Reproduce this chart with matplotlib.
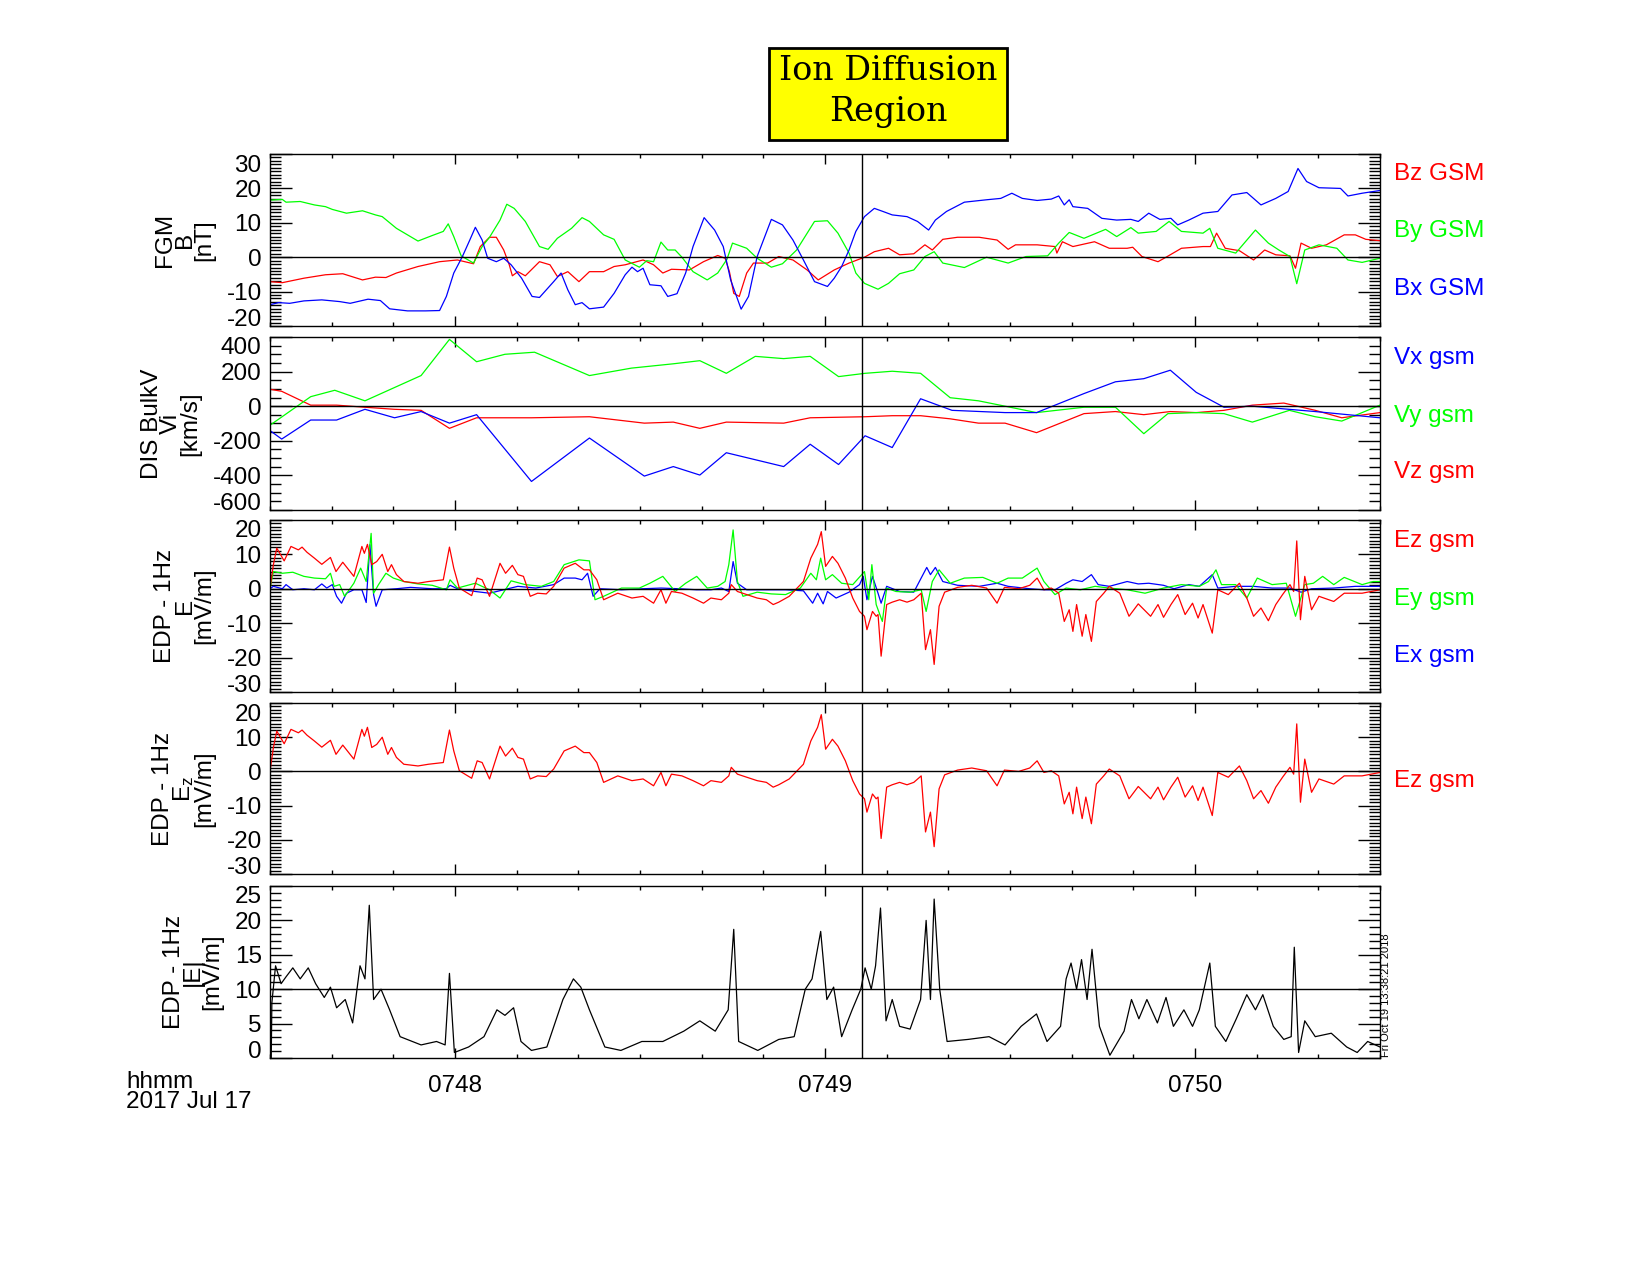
import numpy as np
import matplotlib
matplotlib.use("Agg")
import matplotlib.pyplot as plt
from matplotlib.ticker import MultipleLocator, FixedLocator
from matplotlib.patches import Rectangle
from matplotlib.transforms import ScaledTranslation

plt.rcParams['font.family'] = ['Liberation Sans', 'DejaVu Sans']
plt.rcParams['mathtext.fontset'] = 'custom'
plt.rcParams['mathtext.rm'] = 'Liberation Sans'
plt.rcParams['mathtext.it'] = 'Liberation Sans:italic'
plt.rcParams['axes.unicode_minus'] = False

# time is seconds after 07:47:30 UT, 2017 Jul 17
t_span = (0, 180)
idr_time = 96.0
tick_times = [30, 90, 150]
tick_names = ['0748', '0749', '0750']

# FGM B (nT), GSM
bx_gsm = [(0, -13.8), (1.4, -13.2), (3.2, -13.4), (5.5, -12.7), (8.4, -12.4), (11.3, -12.9), (13.0, -13.4),
          (15.9, -12.2), (17.9, -12.6), (19.4, -15.0), (22.3, -15.6), (25.2, -15.6), (27.5, -15.5), (28.6, -11.4),
          (29.8, -4.6), (31.2, 0.2), (32.4, 5.0), (33.3, 8.7), (34.4, 5.0), (35.3, -0.3), (36.7, -1.3), (37.9, -0.3),
          (39.1, -2.2), (40.8, -6.1), (42.5, -11.4), (43.7, -11.7), (46.0, -7.1), (47.2, -4.6), (48.3, -9.5),
          (49.5, -13.8), (50.6, -13.2), (51.8, -15.0), (54.1, -14.5), (55.8, -10.5), (57.6, -5.1), (58.7, -2.9),
          (59.6, -4.2), (60.5, -3.2), (61.6, -8.0), (63.4, -8.3), (64.5, -11.4), (66.0, -10.6), (67.4, -4.6),
          (68.6, 3.1), (70.4, 11.5), (72.1, 7.9), (73.5, 3.1), (74.7, -6.6), (76.4, -15.1), (77.6, -11.4),
          (79.0, 0.2), (81.3, 11.0), (83.1, 9.4), (84.8, 5.0), (86.5, -0.8), (88.3, -7.1), (90.4, -8.5),
          (91.5, -6.1), (92.7, -2.7), (93.9, 2.1), (95.0, 7.5), (96.4, 11.8), (98.0, 14.2), (99.4, 13.3),
          (100.9, 12.3), (103.3, 11.8), (105.0, 10.4), (106.8, 7.9), (107.9, 10.8), (109.7, 13.3), (112.6, 16.0),
          (116.2, 16.7), (118.5, 17.1), (120.3, 18.6), (122.0, 17.1), (124.4, 16.5), (126.7, 16.9), (127.9, 17.8),
          (128.8, 15.2), (129.6, 16.7), (130.2, 14.7), (132.6, 14.2), (134.9, 11.3), (137.3, 10.8), (139.6, 11.0),
          (140.8, 10.4), (142.5, 12.8), (144.3, 11.0), (146.1, 11.3), (147.2, 9.4), (149.0, 10.8), (151.3, 12.8),
          (153.7, 13.3), (156.0, 18.1), (158.4, 18.8), (160.7, 15.2), (163.1, 17.1), (165.1, 19.1), (166.7, 25.8),
          (168.1, 22.0), (170.1, 20.2), (173.6, 20.0), (174.8, 17.8), (177.1, 18.6), (180.0, 19.4)]
by_gsm = [(0, 16.6), (2.0, 16.8), (2.6, 16.0), (4.9, 16.2), (7.2, 15.2), (9.0, 14.7), (10.1, 13.9), (12.4, 12.8),
          (15.0, 13.5), (17.1, 12.3), (18.2, 11.8), (20.5, 8.4), (24.0, 4.7), (26.3, 6.3), (28.1, 7.5), (28.9, 9.7),
          (29.8, 6.0), (31.0, 0.4), (33.0, -1.7), (34.4, 3.1), (35.6, 5.8), (37.3, 10.8), (38.4, 15.4), (39.6, 14.2),
          (41.4, 10.4), (43.7, 3.1), (45.1, 2.3), (46.6, 5.5), (48.9, 8.4), (50.6, 11.5), (51.8, 10.4), (54.1, 6.5),
          (55.8, 5.2), (57.6, -0.8), (59.9, -2.9), (61.1, -1.0), (62.2, -1.3), (63.4, 4.4), (64.5, 2.1), (65.7, 2.1),
          (66.8, 0), (68.6, -4.2), (70.9, -6.6), (72.6, -4.6), (74.1, -0.6), (75.0, 4.1), (77.3, 2.6), (79.0, -0.3),
          (81.3, -2.9), (83.1, -1.9), (85.4, 2.1), (88.3, 10.4), (90.4, 10.6), (92.1, 7.0), (93.9, 1.2), (95.0, -4.6),
          (96.4, -7.6), (98.6, -9.3), (100.3, -7.6), (102.1, -4.8), (104.4, -3.7), (106.2, 0.2), (107.7, 1.6),
          (109.1, -1.7), (112.6, -3.0), (116.2, 0), (119.7, -1.7), (122.6, 0.2), (126.1, 0.4), (127.9, 4.1),
          (129.6, 7.2), (132.0, 5.5), (135.5, 8.1), (137.3, 6.0), (139.6, 8.6), (140.8, 7.0), (143.7, 7.5),
          (145.8, 10.4), (147.8, 7.5), (151.3, 7.0), (152.4, 8.4), (153.7, 2.6), (156.6, 1.2), (159.8, 7.9),
          (161.9, 4.1), (163.6, 2.1), (165.4, 0.2), (166.5, -7.7), (167.8, 2.1), (170.1, 3.6), (173.0, 2.6),
          (174.8, -0.8), (177.1, -1.5), (180.0, -0.3)]
bz_gsm = [(0, -7.1), (2.0, -7.4), (5.5, -6.1), (9.0, -5.1), (11.8, -4.8), (15.0, -6.6), (17.1, -5.8), (18.8, -5.9),
          (20.5, -4.6), (24.0, -2.7), (27.5, -1.3), (30.4, -0.8), (33.0, -1.9), (34.1, 3.1), (35.6, 5.8), (36.7, 5.8),
          (37.9, 2.1), (38.8, -2.2), (39.3, -5.4), (40.2, -4.2), (41.4, -5.4), (43.7, -1.3), (45.4, -2.2),
          (46.6, -5.6), (48.3, -4.2), (50.1, -7.1), (51.8, -4.2), (54.1, -4.2), (55.8, -2.7), (57.6, -2.2),
          (60.5, -0.8), (62.2, -2.2), (63.7, -4.6), (65.1, -3.5), (68.0, -3.7), (70.3, -1.3), (72.6, 0.5),
          (73.8, -0.3), (74.5, -4.2), (75.2, -10.5), (76.1, -11.4), (77.3, -4.6), (78.4, -1.7), (80.7, -1.7),
          (82.5, 0.2), (84.8, -0.8), (87.1, -3.7), (88.9, -6.6), (91.5, -3.7), (93.9, -1.7), (96.4, 0), (98.0, 1.6),
          (100.3, 2.6), (102.1, 0.7), (104.4, 1.0), (106.2, 3.6), (107.4, 2.1), (109.1, 5.2), (111.5, 5.8),
          (115.0, 5.8), (117.9, 5.0), (119.7, 2.3), (120.9, 3.6), (124.4, 3.6), (127.3, 3.1), (127.6, 1.2),
          (128.5, 4.5), (130.2, 3.1), (133.7, 4.5), (136.1, 2.6), (139.0, 2.6), (139.9, 2.9), (141.4, 0.2),
          (144.0, -1.3), (145.5, 0.2), (147.8, 2.6), (151.3, 3.1), (152.5, 3.1), (153.5, 7.0), (154.9, 2.6),
          (157.2, 1.9), (159.5, -0.8), (161.3, 2.1), (163.1, 0.7), (165.4, 0.4), (166.3, -3.2), (167.2, 4.1),
          (168.9, 2.6), (171.3, 3.6), (174.2, 6.5), (176.0, 6.5), (177.7, 5.2), (180.0, 4.8)]

# DIS bulk velocity (km/s), GSM
vx_gsm = [(0, -141), (1.9, -190), (6.6, -80), (10.8, -80), (15.4, -18), (20.2, -67), (24.5, -31), (29.1, -98),
          (33.5, -49), (42.4, -435), (51.8, -184), (60.7, -404), (65.4, -349), (69.7, -398), (74.0, -269),
          (83.3, -349), (87.6, -220), (92.2, -337), (96.5, -171), (100.9, -239), (105.5, 43), (110.6, -24),
          (119.2, -37), (124.3, -37), (132.0, 73), (137.1, 141), (141.7, 159), (146.0, 208), (150.2, 80),
          (154.7, -6), (159.3, 0), (169.5, -31), (180, -67)]
vy_gsm = [(0, -110), (6.6, 55), (10.5, 92), (15.4, 31), (24.5, 177), (29.1, 386), (33.5, 257), (38.1, 300),
          (42.9, 312), (51.8, 177), (58.6, 220), (65.4, 245), (69.7, 263), (74.0, 190), (78.7, 288), (83.3, 275),
          (87.6, 288), (92.2, 171), (96.5, 190), (100.9, 202), (105.5, 190), (110.3, 49), (114.9, 31), (119.2, 0),
          (124.3, -37), (132.0, -6), (137.1, -6), (141.7, -159), (145.6, -43), (150.2, -37), (154.7, -43),
          (159.3, -92), (165.3, -24), (169.5, -61), (173.8, -86), (180, 6)]
vz_gsm = [(0, 98), (1.9, 86), (6.6, 6), (10.8, 6), (15.4, -6), (20.2, -18), (24.5, -24), (29.1, -128), (33.5, -67),
          (42.4, -67), (51.8, -61), (60.7, -98), (65.4, -92), (69.7, -128), (74.0, -92), (83.3, -98), (87.6, -67),
          (96.5, -61), (100.9, -55), (105.5, -55), (110.3, -73), (114.9, -98), (119.2, -98), (124.3, -153),
          (132.0, -43), (137.1, -31), (141.7, -49), (146.0, -31), (150.2, -37), (154.7, -24), (159.3, 6),
          (164.4, 18), (169.5, -24), (173.8, -67), (180, -37)]

# EDP 1 Hz electric field (mV/m), GSM
ex_gsm = [(0, 0), (0.55, 0.7), (2.0, 0), (2.6, 1.2), (3.7, -0.3), (5.5, 0), (7.2, -0.3), (8.4, 1.4), (9.2, 0.2),
          (10.1, 1.2), (10.8, -2.2), (11.6, -4.2), (12.4, -1.3), (13.6, -0.3), (14.9, -0.3), (15.6, -4.0),
          (16.2, 12.8), (16.8, -1.7), (17.2, -5.1), (18.2, -0.3), (20.5, 0), (22.8, 0.4), (26.3, 0), (28.6, 0),
          (29.2, 1.0), (30.4, 0), (33.3, -0.8), (35.6, -1.3), (37.9, -0.3), (40.2, 0.7), (43.1, 0.2), (46.0, 1.2),
          (47.7, 3.1), (49.5, 3.1), (50.6, 2.6), (51.5, 4.5), (52.4, -2.2), (53.5, 0), (57.0, -0.3), (60.5, 0),
          (63.4, 0.2), (66.3, 0), (69.2, -0.3), (71.5, -0.3), (73.2, 0.2), (74.4, -0.8), (75.1, 7.9), (75.8, 1.6),
          (77.3, -0.3), (80.7, -0.3), (83.6, -0.3), (86.5, -0.6), (88.0, -4.2), (88.8, -1.3), (89.7, -4.4),
          (90.4, -0.8), (91.8, -2.7), (93.9, -1.0), (95.6, 1.2), (96.2, 3.6), (96.8, -3.2), (97.7, 3.6),
          (98.6, -1.3), (99.1, -4.2), (100.0, 0.7), (102.1, -0.8), (104.4, -1.0), (105.3, 2.1), (106.5, 6.2),
          (107.1, 4.1), (107.9, 6.2), (109.1, 2.1), (111.5, 1.0), (115.0, 0.7), (117.9, 1.6), (119.7, 0.7),
          (123.2, 0), (125.5, -0.3), (127.3, -0.3), (129.1, 1.6), (130.2, 2.6), (131.7, 2.1), (133.2, 4.1),
          (134.3, 1.2), (136.1, 0.7), (139.0, 2.1), (140.8, 1.4), (142.5, 1.6), (144.9, 1.0), (146.6, 0),
          (149.0, 1.2), (150.7, 0.7), (152.8, 4.1), (153.7, 0.2), (156.6, 0.7), (159.5, 0.7), (162.5, 0.2),
          (165.4, 0.2), (167.2, -1.0), (168.9, 0), (172.5, 0.2), (176.0, 0.7), (180.0, 0.7)]
ey_gsm = [(0, 0), (0.55, 5.0), (2.0, 4.5), (3.7, 4.8), (5.5, 3.6), (7.2, 3.1), (9.0, 2.9), (9.8, 4.5), (10.4, 0.7),
          (11.3, 1.2), (12.1, -2.2), (13.6, 1.6), (14.7, 6.0), (15.6, 2.1), (16.4, 16.1), (16.8, -1.3), (17.6, 1.2),
          (18.8, 4.5), (20.0, 3.1), (21.7, 2.1), (24.0, 1.4), (26.3, 1.0), (28.6, -0.3), (29.2, 2.6), (30.4, 0.2),
          (33.3, 1.6), (35.6, -0.3), (37.3, -2.7), (39.1, 2.3), (41.4, 1.2), (44.0, 0.7), (46.0, 2.1), (47.7, 7.0),
          (50.1, 8.4), (51.8, 8.1), (52.7, -3.2), (54.1, -2.2), (57.0, 0.2), (59.9, 0.2), (61.6, 1.6), (63.7, 3.6),
          (65.7, -0.8), (67.4, 1.6), (69.2, 3.6), (70.9, 0.2), (72.6, 0.7), (73.8, 2.1), (74.4, 7.0), (75.1, 17.1),
          (75.8, 2.1), (76.7, -2.2), (79.0, -1.0), (81.3, -1.5), (83.6, -1.7), (86.0, 0.2), (87.7, 4.5), (88.6, 2.6),
          (89.3, 8.9), (90.1, 2.6), (91.2, 4.1), (92.7, 1.6), (94.5, 1.2), (96.4, 5.0), (97.1, -3.2), (97.6, 7.0),
          (98.3, -4.6), (99.3, -9.5), (100.0, 0.2), (101.5, -0.8), (103.8, -1.0), (105.6, -0.3), (106.4, -6.6),
          (107.4, 2.1), (108.5, 5.5), (110.3, 1.6), (112.6, 3.1), (115.6, 3.3), (117.9, 1.6), (119.7, 3.1),
          (122.0, 3.1), (124.4, 6.0), (125.5, 2.1), (127.3, -1.7), (129.1, 0.2), (131.4, -0.3), (133.8, 0.7),
          (136.1, 0.2), (139.0, -0.3), (141.9, -1.3), (144.9, 0.2), (147.8, 1.2), (150.7, 0.7), (152.2, 2.1),
          (153.4, 5.5), (154.3, 1.2), (156.6, 1.2), (158.4, -2.7), (160.1, 3.1), (162.5, 1.2), (164.8, 1.6),
          (166.3, -8.0), (167.8, 1.2), (169.2, 1.6), (170.7, 3.6), (172.5, 1.2), (174.2, 3.3), (177.1, 1.2),
          (178.9, 2.1), (180.0, 2.1)]
ez_gsm = [(0, 0), (0.55, 7.0), (1.1, 11.8), (2.3, 8.1), (3.4, 12.3), (4.6, 11.3), (5.2, 12.1), (6.0, 10.6),
          (7.2, 8.9), (8.4, 7.1), (9.8, 9.1), (10.7, 5.0), (11.8, 7.7), (13.6, 3.6), (14.9, 12.3), (15.3, 10.3),
          (15.8, 12.9), (16.5, 7.0), (17.3, 7.9), (18.2, 10.0), (19.1, 5.0), (19.7, 7.0), (20.5, 4.1), (21.7, 2.1),
          (24.0, 1.6), (25.7, 2.1), (28.1, 2.6), (29.1, 12.1), (29.8, 6.0), (30.7, 0.2), (32.7, -2.0), (33.6, 3.1),
          (34.4, 2.6), (35.6, -2.2), (37.3, 7.4), (38.2, 4.5), (39.3, 6.8), (40.2, 4.1), (41.1, 3.6), (42.2, -2.2),
          (43.4, -1.3), (44.8, -1.5), (46.0, 0.7), (47.7, 6.0), (49.5, 7.4), (50.9, 5.5), (51.8, 5.5), (53.0, 2.6),
          (54.1, -3.2), (56.4, -1.3), (58.7, -2.7), (60.5, -2.2), (62.2, -4.2), (63.4, -0.3), (64.2, -4.2),
          (65.1, -0.8), (66.8, -1.3), (68.6, -2.7), (70.3, -4.2), (71.5, -2.7), (73.2, -3.2), (74.4, -1.3),
          (74.8, 1.2), (75.8, -0.8), (77.3, -1.7), (79.0, -2.7), (80.5, -3.2), (81.6, -4.6), (82.5, -3.9),
          (84.2, -2.2), (86.5, 2.1), (87.7, 8.9), (88.8, 12.9), (89.4, 16.6), (90.1, 6.5), (91.2, 9.4), (92.1, 7.4),
          (93.3, 3.1), (94.5, -2.7), (95.6, -6.6), (96.4, -8.0), (96.8, -11.9), (97.7, -6.6), (98.3, -8.0),
          (98.6, -7.5), (99.1, -19.6), (100.0, -4.6), (100.9, -3.9), (102.1, -3.2), (103.3, -3.9), (104.4, -3.2),
          (105.6, -1.3), (106.3, -17.7), (107.1, -11.9), (107.7, -22.0), (108.5, -5.1), (109.4, -1.0), (111.5, 0.4),
          (113.8, 1.0), (116.2, 0.2), (117.9, -4.2), (119.1, 0.4), (121.4, 0), (123.2, 1.0), (124.4, 3.1),
          (125.5, -0.3), (126.7, 0.2), (127.9, -1.3), (128.8, -9.5), (129.6, -6.1), (130.2, -12.4), (130.8, -4.6),
          (131.7, -13.8), (132.3, -7.5), (133.2, -15.3), (134.0, -3.7), (135.2, -1.3), (136.1, 0.7), (137.8, -1.3),
          (139.3, -8.0), (140.8, -4.4), (142.8, -8.0), (144.0, -4.6), (144.9, -8.3), (146.1, -4.6), (147.2, -1.7),
          (148.4, -7.5), (149.6, -4.2), (150.5, -8.5), (151.3, -4.6), (152.8, -12.9), (153.7, -0.3), (155.4, -1.7),
          (157.2, 1.6), (158.4, -2.7), (159.5, -8.0), (160.7, -5.6), (161.9, -9.3), (163.1, -4.6), (164.2, -1.7),
          (165.4, 1.2), (166.0, -0.8), (166.5, 13.9), (167.1, -9.0), (167.8, 3.6), (168.9, -6.1), (170.1, -2.2),
          (172.5, -3.7), (174.2, -1.3), (177.1, -1.3), (180.0, -0.3)]
e_mag = [(0.2, 0.0), (0.3, 8.0), (0.9, 13.4), (1.8, 10.8), (2.6, 11.8), (3.7, 13.1), (4.9, 11.5), (6.2, 13.1),
         (7.4, 10.8), (8.8, 8.8), (9.8, 10.3), (10.8, 7.3), (12.2, 8.5), (13.4, 5.1), (14.6, 13.4), (15.4, 11.5),
         (16.1, 22.2), (16.8, 8.5), (18.0, 10.0), (19.4, 7.0), (21.1, 3.1), (24.5, 1.9), (27.0, 2.4), (28.4, 1.9),
         (29.1, 12.3), (29.9, 0.8), (32.2, 1.6), (34.7, 3.1), (36.8, 7.0), (38.1, 6.2), (39.5, 7.3), (40.7, 2.4),
         (42.4, 1.1), (44.9, 1.6), (47.5, 8.5), (49.2, 11.5), (50.4, 10.3), (51.8, 7.0), (54.3, 1.6), (56.9, 1.1),
         (60.3, 2.4), (63.7, 2.4), (67.1, 3.9), (69.7, 5.4), (72.2, 3.9), (74.3, 7.0), (75.2, 18.7), (76.0, 2.4),
         (79.1, 1.1), (82.5, 2.7), (85.0, 3.1), (86.8, 10.0), (87.9, 11.5), (89.3, 18.4), (90.3, 8.5), (91.4, 10.3),
         (92.7, 3.1), (94.4, 7.0), (95.8, 10.0), (96.5, 13.1), (97.5, 10.0), (98.2, 13.4), (99.0, 21.8), (99.9, 5.4),
         (100.9, 8.5), (102.1, 4.6), (103.8, 4.2), (105.5, 8.5), (106.4, 20.0), (107.1, 8.5), (107.7, 23.1),
         (108.6, 10.0), (109.8, 2.4), (113.2, 2.7), (116.6, 3.1), (119.2, 1.9), (121.8, 4.6), (124.3, 6.4),
         (126.0, 2.4), (128.2, 4.6), (129.1, 11.5), (129.9, 13.8), (130.8, 10.0), (131.6, 14.3), (132.5, 8.5),
         (133.3, 15.8), (134.5, 4.6), (136.2, 0.4), (138.5, 3.9), (139.7, 8.5), (140.9, 5.7), (142.2, 8.5),
         (143.9, 5.1), (145.3, 8.8), (146.5, 4.6), (148.2, 7.0), (149.6, 4.6), (150.7, 7.0), (152.4, 13.8),
         (153.3, 4.6), (155.0, 2.4), (156.7, 5.7), (158.4, 9.2), (159.8, 7.0), (161.0, 9.2), (162.7, 4.6),
         (164.4, 2.7), (165.6, 3.1), (166.1, 16.1), (166.8, 0.8), (167.8, 5.4), (169.5, 3.1), (172.1, 3.6),
         (174.6, 1.6), (176.3, 0.8), (178.0, 2.4), (180.0, 1.6)]

RED, GREEN, BLUE = '#ff0000', '#00ff00', '#0000ff'

# panel setup: (bottom, height) in figure fraction, ylim, major, minor, ylabel, ref line
panels = [
    (0.7443, 0.1349, (-20, 30), 10, 1, 'FGM\nB\n[nT]', 0),
    (0.6000, 0.1357, (-600, 400), 200, 50, 'DIS BulkV\nVi\n[km/s]', 0),
    (0.4573, 0.1349, (-30, 20), 10, 1, 'EDP - 1Hz\nE\n[mV/m]', 0),
    (0.3145, 0.1341, (-30, 20), 10, 1, 'EDP - 1Hz\nE$_{\\mathrm{z}}$\n[mV/m]', 0),
    (0.1702, 0.1349, (0, 25), 5, 1, 'EDP - 1Hz\n|E|\n[mV/m]', 10),
]
series = [
    [(bz_gsm, RED), (by_gsm, GREEN), (bx_gsm, BLUE)],
    [(vz_gsm, RED), (vy_gsm, GREEN), (vx_gsm, BLUE)],
    [(ex_gsm, BLUE), (ey_gsm, GREEN), (ez_gsm, RED)],
    [(ez_gsm, RED)],
    [(e_mag, 'black')],
]
# right-hand legends: (text, color, y pixel from top)
legends = [
    [('Bz GSM', RED, 174), ('By GSM', GREEN, 231), ('Bx GSM', BLUE, 289)],
    [('Vx gsm', BLUE, 358), ('Vy gsm', GREEN, 416), ('Vz gsm', RED, 472)],
    [('Ez gsm', RED, 541), ('Ey gsm', GREEN, 599), ('Ex gsm', BLUE, 656)],
    [('Ez gsm', RED, 781)],
    [],
]

W, H = 1650, 1275
fig = plt.figure(figsize=(16.5, 12.75), dpi=100)
fs = 17.5

axes = []
for i, (bot, hgt, ylim, major, minor, ylabel, ref) in enumerate(panels):
    ax = fig.add_axes([270 / W, bot, 1110 / W, hgt])
    for data, color in series[i]:
        d = np.array(data)
        ax.plot(d[:, 0], d[:, 1], color=color, lw=0.9)
    ax.axhline(ref, color='black', lw=1.0)
    ax.axvline(idr_time, color='black', lw=1.0)
    ax.set_xlim(*t_span)
    ax.set_ylim(*ylim)
    ax.set_yticks(np.arange(ylim[0], ylim[1] + major, major))
    ax.yaxis.set_minor_locator(MultipleLocator(minor))
    ax.xaxis.set_major_locator(FixedLocator(tick_times))
    ax.xaxis.set_minor_locator(MultipleLocator(10))
    ax.tick_params(which='both', direction='in', top=True, right=True, width=1)
    ax.tick_params(axis='y', which='major', length=16, labelsize=fs, pad=6)
    ax.tick_params(axis='y', which='minor', length=8)
    ax.tick_params(axis='x', which='major', length=7, labelsize=fs, pad=12)
    ax.tick_params(axis='x', which='minor', length=3)
    for sp in ax.spines.values():
        sp.set_linewidth(1.0)
    ax.set_ylabel(ylabel, fontsize=fs, linespacing=0.85, labelpad=8)
    if i < len(panels) - 1:
        ax.set_xticklabels([])
    else:
        ax.set_xticklabels(tick_names)
    for txt, color, ypix in legends[i]:
        fig.text(1394 / W, 1 - ypix / H, txt, color=color, fontsize=fs, ha='left', va='center')
    axes.append(ax)

# nudge the end labels inside their own panel (about 8-9 px)
fig.canvas.draw()
for ax in axes:
    labels = ax.get_yticklabels()
    labels[0].set_transform(labels[0].get_transform() + ScaledTranslation(0, 0.085, fig.dpi_scale_trans))
    labels[-1].set_transform(labels[-1].get_transform() + ScaledTranslation(0, -0.09, fig.dpi_scale_trans))

fig.text(126 / W, 1 - 1082 / H, 'hhmm', fontsize=fs, ha='left', va='center')
fig.text(126 / W, 1 - 1102 / H, '2017 Jul 17', fontsize=fs, ha='left', va='center')
fig.text(1381 / W, 1 - 1057 / H, 'Fri Oct 19 13:38:21 2018', fontsize=8, rotation=90,
         ha='left', va='bottom')

# title box
fig.patches.append(Rectangle((769 / W, 1 - 140 / H), 238 / W, 92 / H, transform=fig.transFigure,
                             facecolor='yellow', edgecolor='black', lw=2))
fig.text(888 / W, 1 - 71 / H, 'Ion Diffusion', family='DejaVu Serif', fontsize=24,
         ha='center', va='center')
fig.text(888 / W, 1 - 112 / H, 'Region', family='DejaVu Serif', fontsize=24,
         ha='center', va='center')

fig.savefig('out.png', dpi=100)
